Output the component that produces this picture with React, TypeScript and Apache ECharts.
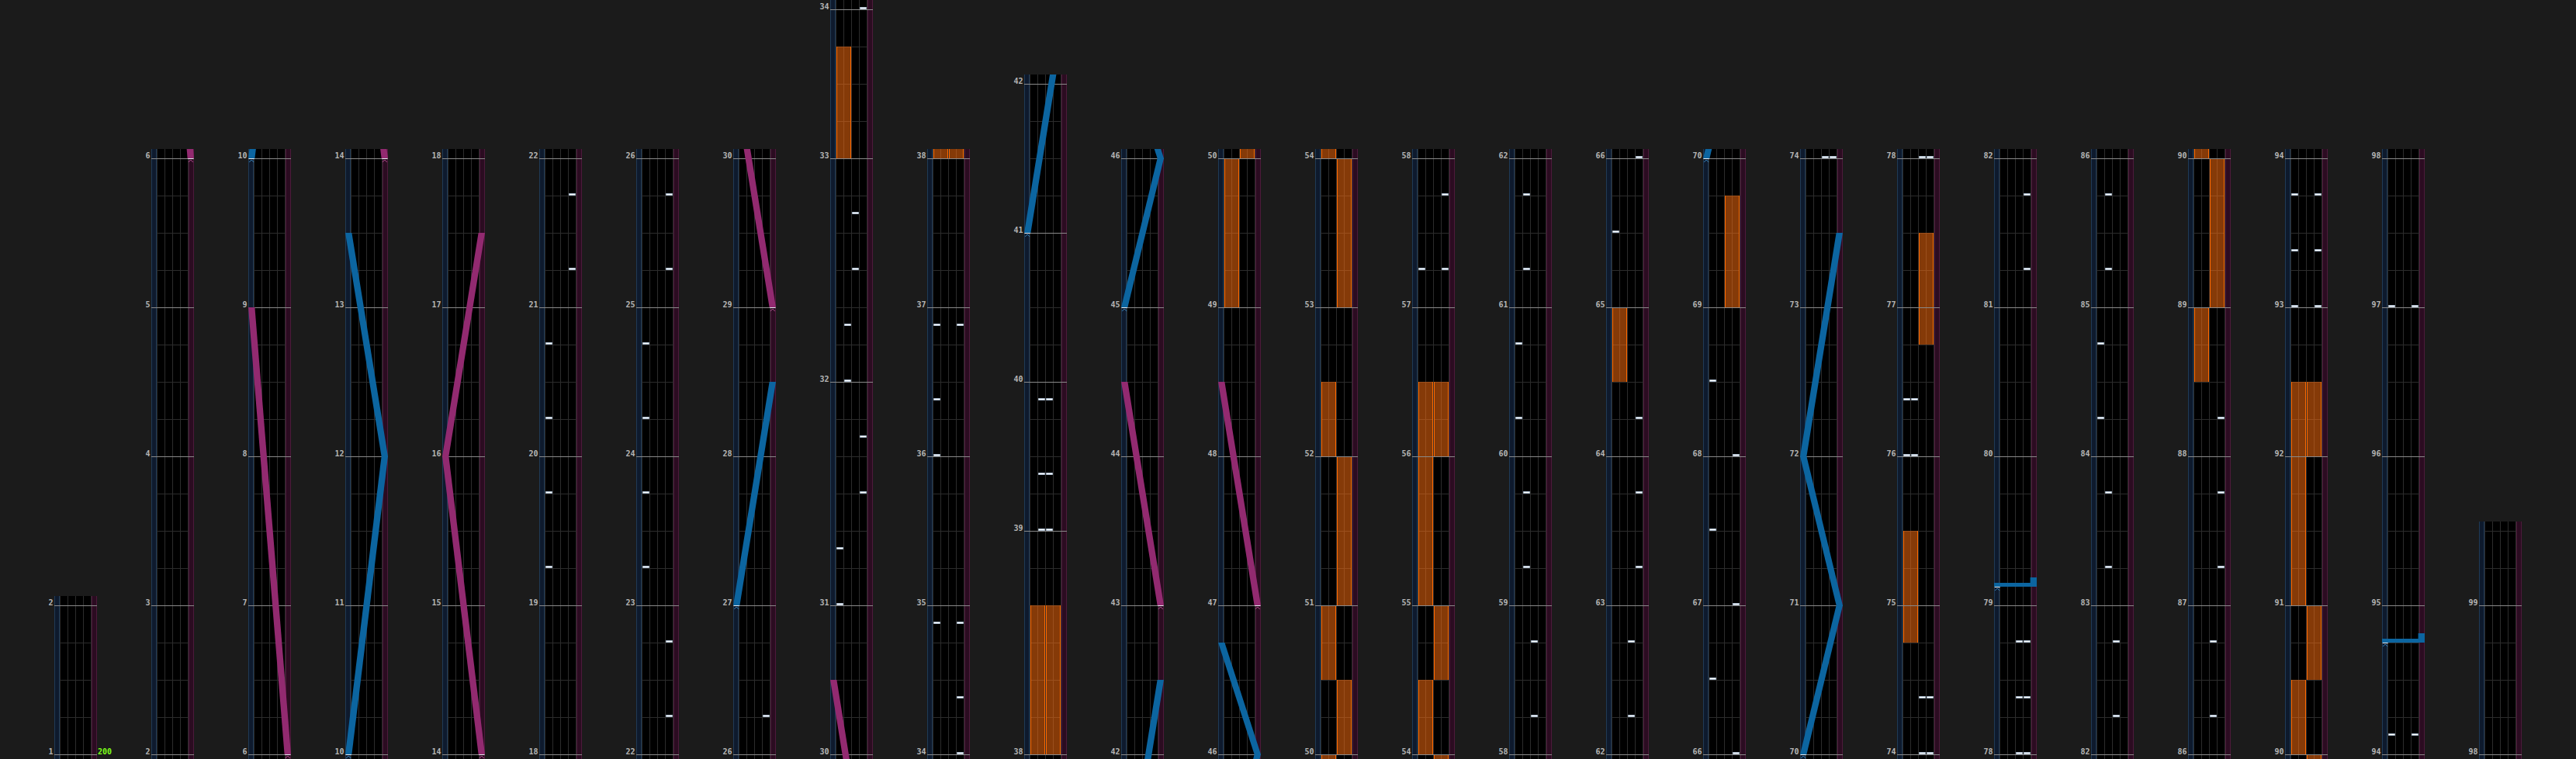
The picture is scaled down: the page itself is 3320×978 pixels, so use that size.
import { useEffect, useRef } from "react";
import * as echarts from "echarts";

// ---------- chart data ----------
const sixFourMeasures = [31, 32, 38];
const columnStartMeasures = [1, 2, 6, 10, 14, 18, 22, 26, 30, 34, 38, 42, 46, 50, 54, 58, 62, 66, 70, 74, 78, 82, 86, 90, 94, 98];
const chartEnd: [number, number] = [99, 2]; // measure, beat
const bpmChanges: [number, number, number][] = [[1, 0, 200]]; // measure, beat, bpm

// [lane 0..3 (A..D), measure, beat]
const btNotes: [number, number, number][] = [
  [0, 19, 1], [0, 19, 3], [0, 20, 1], [0, 20, 3], [3, 21, 1], [3, 21, 3],
  [3, 22, 1], [3, 22, 3], [0, 23, 1], [0, 23, 3], [0, 24, 1], [0, 24, 3], [3, 25, 1], [3, 25, 3],
  [3, 26, 1],
  [0, 31, 0], [0, 31, 1.5], [3, 31, 3], [3, 31, 4.5], [1, 32, 0], [1, 32, 1.5], [2, 32, 3], [2, 32, 4.5],
  [3, 34, 0], [3, 34, 1.5], [0, 34, 3.5], [3, 34, 3.5], [0, 36, 0], [0, 36, 1.5], [0, 36, 3.5], [3, 36, 3.5],
  [1, 39, 0], [2, 39, 0], [1, 39, 1.5], [2, 39, 1.5], [1, 39, 3.5], [2, 39, 3.5],
  [0, 57, 1], [3, 57, 1], [3, 57, 3],
  [2, 58, 1], [2, 58, 3], [1, 59, 1], [1, 59, 3], [0, 60, 1], [0, 60, 3], [1, 61, 1], [1, 61, 3],
  [2, 62, 1], [2, 62, 3], [3, 63, 1], [3, 63, 3], [3, 64, 1], [0, 65, 2], [3, 66, 0],
  [0, 66, 2], [3, 67, 0], [0, 67, 2], [3, 68, 0], [0, 68, 2],
  [2, 74, 0], [3, 74, 0], [2, 74, 1.5], [3, 74, 1.5], [0, 76, 0], [1, 76, 0], [0, 76, 1.5], [1, 76, 1.5],
  [2, 78, 0], [3, 78, 0], [2, 78, 1.5], [3, 78, 1.5], [2, 78, 3], [3, 78, 3], [3, 81, 1], [3, 81, 3],
  [2, 82, 1], [2, 82, 3], [1, 83, 1], [1, 83, 3], [0, 84, 1], [0, 84, 3], [1, 85, 1], [1, 85, 3],
  [2, 86, 1], [2, 86, 3], [3, 87, 1], [3, 87, 3], [3, 88, 1],
  [0, 93, 0], [3, 93, 0], [0, 93, 1.5], [3, 93, 1.5], [0, 93, 3], [3, 93, 3],
  [0, 94, 0.5], [3, 94, 0.5], [0, 97, 0], [3, 97, 0],
];

// [side 0=L 1=R, startMeasure, startBeat, endMeasure, endBeat]
const fxHolds: [number, number, number, number, number][] = [
  [0, 33, 0, 33, 3],
  [0, 38, 0, 38, 4], [1, 38, 0, 38, 4],
  [0, 49, 0, 50, 0], [1, 50, 0, 50, 2], [0, 50, 2, 51, 0], [1, 51, 0, 52, 0], [0, 52, 0, 52, 2],
  [1, 53, 0, 54, 0], [0, 54, 0, 54, 2], [1, 54, 2, 55, 0], [0, 55, 0, 56, 2], [1, 56, 0, 56, 2],
  [0, 64, 2, 65, 0],
  [1, 69, 0, 69, 3],
  [0, 74, 3, 75, 2], [1, 76, 3, 77, 2],
  [0, 88, 2, 89, 0], [1, 89, 0, 90, 0], [0, 90, 0, 90, 2], [1, 90, 2, 91, 0], [0, 91, 0, 92, 2], [1, 92, 0, 92, 2],
];

// laser point lists: [measure, beat, position 0..1]
const blueLasers: [number, number, number][][] = [
  [[10, 0, 0], [12, 0, 1], [13, 2, 0]],
  [[27, 0, 0], [28, 2, 1]],
  [[41, 0, 0], [42, 2, 1]],
  [[45, 0, 0], [46, 0, 1], [46, 3, 0]],
  [[70, 0, 0], [71, 0, 1], [72, 0, 0], [73, 2, 1]],
  [[79, 0.5, 0], [79, 0.5, 1], [79, 0.75, 1]],
  [[94, 3, 0], [94, 3, 1], [94, 3.25, 1]],
];
const pinkLasers: [number, number, number][][] = [
  [[6, 0, 1], [9, 0, 0]],
  [[14, 0, 1], [16, 0, 0], [17, 2, 1]],
  [[29, 0, 1], [30, 2, 0]],
  [[43, 0, 1], [44, 2, 0]],
  [[47, 0, 1], [48, 2, 0]],
];

// ---------- layout / style ----------
const COL_X0 = 70;
const COL_STEP = 125;
const COL_W = 55;
const BASE_Y = 972;
const PX_PER_BEAT = 48;
const PAD = 0.25;
const BLUE = "#0c65a0";
const PINK = "#922a70";

const beatsOf = (m: number) => (sixFourMeasures.includes(m) ? 6 : 4);
const measureStartBeat: number[] = [];
(() => {
  let acc = 0;
  for (let m = 1; m <= 130; m++) {
    measureStartBeat[m] = acc;
    acc += beatsOf(m);
  }
})();
const toBeat = (m: number, b: number) => measureStartBeat[m] + b;

const columns = columnStartMeasures.map((m, i) => ({
  start: toBeat(m, 0),
  end: i + 1 < columnStartMeasures.length ? toBeat(columnStartMeasures[i + 1], 0) : toBeat(chartEnd[0], chartEnd[1]),
}));

const laserX = (p: number) => 4.2 + p * 46.6;
const LHW = 4.2;

function buildOption() {
  const grid: any[] = [];
  const xAxis: any[] = [];
  const yAxis: any[] = [];
  const series: any[] = [];

  const laserSegs: number[][] = [];
  const laserStarts: number[][] = [];
  [blueLasers, pinkLasers].forEach((list, side) => {
    list.forEach((pts) => {
      laserStarts.push([pts[0][2], toBeat(pts[0][0], pts[0][1]), side]);
      for (let k = 0; k + 1 < pts.length; k++) {
        laserSegs.push([pts[k][2], toBeat(pts[k][0], pts[k][1]), pts[k + 1][2], toBeat(pts[k + 1][0], pts[k + 1][1]), side]);
      }
    });
  });
  const notes = btNotes.map(([l, m, b]) => [l, toBeat(m, b)]);
  const fx = fxHolds.map(([s, m0, b0, m1, b1]) => [s, toBeat(m0, b0), toBeat(m1, b1)]);

  columns.forEach((col, i) => {
    const yMin = col.start - PAD;
    const yMax = col.end + PAD;
    grid.push({
      left: COL_X0 + COL_STEP * i,
      width: COL_W,
      top: BASE_Y - (col.end - col.start + PAD) * PX_PER_BEAT,
      height: (col.end - col.start + 2 * PAD) * PX_PER_BEAT,
      show: true,
      backgroundColor: "#000",
      borderWidth: 0,
    });
    xAxis.push({ gridIndex: i, type: "value", min: 0, max: COL_W, show: false });
    yAxis.push({ gridIndex: i, type: "value", min: yMin, max: yMax, show: false });
    const base = { type: "custom", coordinateSystem: "cartesian2d", xAxisIndex: i, yAxisIndex: i, silent: true, animation: false };

    // structure: laser strips and lane dividers
    series.push({
      ...base,
      z: 1,
      clip: true,
      data: [[0, yMin]],
      renderItem: (_p: any, api: any) => {
        const yt = api.coord([0, yMax])[1];
        const yb = api.coord([0, yMin])[1];
        const X = (v: number) => api.coord([v, yMin])[0];
        const vline = (x: number, c: string) => ({ type: "line", shape: { x1: X(x), y1: yt, x2: X(x), y2: yb }, style: { stroke: c, lineWidth: 1 } });
        return {
          type: "group",
          children: [
            { type: "rect", shape: { x: X(0), y: yt, width: 7, height: yb - yt }, style: { fill: "#0e1a2d" } },
            vline(0.5, "#1f3a56"), vline(6.5, "#1f3a56"),
            { type: "rect", shape: { x: X(48), y: yt, width: 7, height: yb - yt }, style: { fill: "#2b0c21" } },
            vline(48.5, "#4d1a3b"), vline(54.5, "#4d1a3b"),
            ...[7.5, 17.5, 27.5, 37.5, 47.5].map((x) => vline(x, "#2c2c2c")),
          ],
        };
      },
    });

    // beat lines
    const beatData: number[][] = [];
    for (let b = col.start; b <= col.end; b++) {
      if (!measureStartBeat.includes(b)) beatData.push([0, b]);
    }
    series.push({
      ...base,
      z: 2,
      clip: true,
      data: beatData,
      renderItem: (_p: any, api: any) => {
        const y = api.coord([0, api.value(1)])[1] + 0.5;
        return { type: "line", shape: { x1: api.coord([7.5, 0])[0], y1: y, x2: api.coord([47.5, 0])[0], y2: y }, style: { stroke: "#2c2c2c", lineWidth: 1 } };
      },
    });

    // FX holds
    series.push({
      ...base,
      z: 3,
      clip: true,
      data: fx.filter((f) => f[2] >= yMin && f[1] <= yMax),
      renderItem: (_p: any, api: any) => {
        const side = api.value(0);
        const xa = side === 0 ? 8 : 28;
        const [x1, y1] = api.coord([xa, api.value(2)]);
        const [x2, y2] = api.coord([xa + 19, api.value(1)]);
        return {
          type: "group",
          children: [
            { type: "rect", shape: { x: x1, y: y1, width: x2 - x1, height: y2 - y1 }, style: { fill: "rgba(255,112,16,0.52)" } },
            { type: "line", shape: { x1: x1 + 0.5, y1, x2: x1 + 0.5, y2 }, style: { stroke: "#ff6a00", lineWidth: 1 } },
            { type: "line", shape: { x1: x2 - 0.5, y1, x2: x2 - 0.5, y2 }, style: { stroke: "#ff6a00", lineWidth: 1 } },
          ],
        };
      },
    });

    // measure lines + labels
    const measureData: number[][] = [];
    for (let m = 1; m <= 130; m++) {
      const b = measureStartBeat[m];
      if (b >= col.start && b <= col.end) measureData.push([m, b]);
    }
    series.push({
      ...base,
      z: 4,
      clip: false,
      data: measureData,
      renderItem: (_p: any, api: any) => {
        const y = api.coord([0, api.value(1)])[1];
        const x0 = api.coord([0, 0])[0];
        const x1 = api.coord([COL_W, 0])[0];
        return {
          type: "group",
          children: [
            { type: "line", shape: { x1: x0, y1: y + 0.5, x2: x1, y2: y + 0.5 }, style: { stroke: "#8a8a8a", lineWidth: 1 } },
            {
              type: "text",
              style: { text: String(api.value(0)), x: x0 - 1.5, y: y - 3.5, fill: "#b5b5b5", font: 'bold 10px "DejaVu Sans Mono"', align: "right", verticalAlign: "middle" },
            },
          ],
        };
      },
    });

    // BT notes
    series.push({
      ...base,
      z: 5,
      clip: true,
      data: notes.filter((n) => n[1] >= yMin - 0.2 && n[1] <= yMax + 0.2),
      renderItem: (_p: any, api: any) => {
        const [x, y] = api.coord([8 + 10 * api.value(0), api.value(1)]);
        return { type: "rect", shape: { x: x + 0.5, y: y - 2.5, width: 8, height: 2 }, style: { fill: "#ffffff", stroke: "#a9bacd", lineWidth: 1 } };
      },
    });

    // lasers
    series.push({
      ...base,
      z: 6,
      clip: true,
      data: laserSegs.filter((s) => Math.max(s[1], s[3]) >= yMin && Math.min(s[1], s[3]) <= yMax),
      renderItem: (_p: any, api: any) => {
        const p0 = api.value(0), b0 = api.value(1), p1 = api.value(2), b1 = api.value(3), side = api.value(4);
        const color = side === 0 ? BLUE : PINK;
        if (b0 === b1) {
          const a = api.coord([Math.min(laserX(p0), laserX(p1)) - LHW, b0]);
          const c = api.coord([Math.max(laserX(p0), laserX(p1)) + LHW, b0]);
          return { type: "rect", shape: { x: a[0], y: a[1] - 5, width: c[0] - a[0], height: 5 }, style: { fill: color } };
        }
        const pts = [
          [laserX(p0) - LHW, b0], [laserX(p0) + LHW, b0], [laserX(p1) + LHW, b1], [laserX(p1) - LHW, b1],
        ].map((q) => api.coord(q));
        return { type: "polygon", shape: { points: pts }, style: { fill: color } };
      },
    });

    // laser start markers
    series.push({
      ...base,
      z: 7,
      clip: true,
      data: laserStarts.filter((s) => s[1] >= yMin - 0.2 && s[1] <= yMax + 0.2),
      renderItem: (_p: any, api: any) => {
        const [cx, y] = api.coord([laserX(api.value(0)), api.value(1)]);
        const c = api.value(2) === 0 ? "#3a86bd" : "#b44f92";
        return {
          type: "group",
          children: [
            { type: "line", shape: { x1: cx - 3.5, y1: y + 0.5, x2: cx + 3.5, y2: y + 0.5 }, style: { stroke: "#e8eef4", lineWidth: 1 } },
            { type: "polyline", shape: { points: [[cx - 3, y + 5], [cx, y + 2], [cx + 3, y + 5]] }, style: { stroke: c, lineWidth: 1, fill: "none" } },
          ],
        };
      },
    });

    // BPM labels
    const bpmData = bpmChanges
      .map(([m, b, v]) => [v, toBeat(m, b)])
      .filter((d) => d[1] >= col.start && d[1] < col.end);
    if (bpmData.length) {
      series.push({
        ...base,
        z: 8,
        clip: false,
        data: bpmData,
        renderItem: (_p: any, api: any) => {
          const [x, y] = api.coord([COL_W, api.value(1)]);
          return {
            type: "text",
            style: { text: String(api.value(0)), x: x + 1, y: y - 3.5, fill: "#7cff1a", font: 'bold 10px "DejaVu Sans Mono"', align: "left", verticalAlign: "middle" },
          };
        },
      });
    }
  });

  return { animation: false, backgroundColor: "#1b1b1b", grid, xAxis, yAxis, series };
}

export default function App() {
  const ref = useRef<HTMLDivElement>(null);
  useEffect(() => {
    if (!ref.current) return;
    const chart = echarts.init(ref.current, undefined, { renderer: "svg" });
    chart.setOption(buildOption() as any);
    return () => chart.dispose();
  }, []);
  return <div ref={ref} style={{ position: "fixed", left: 0, top: 0, width: 3320, height: 984 }} />;
}
